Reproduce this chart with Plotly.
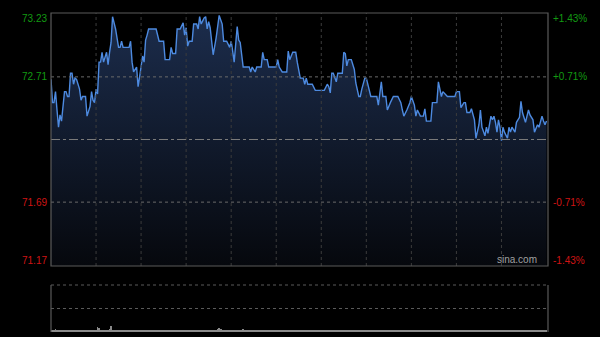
import plotly.graph_objects as go

# ---- data ----
Y_MIN, Y_MAX, PREV_CLOSE = 71.17, 73.23, 72.20
left_labels = ["73.23", "72.71", "71.69", "71.17"]
left_values = [73.23, 72.71, 71.69, 71.17]
right_labels = ["+1.43%", "+0.71%", "-0.71%", "-1.43%"]
grid_prices = [72.71, 71.69]
SESSION_MINUTES = 330
GRID_STEP = 30

minutes = [0, 1, 2, 3, 4, 5, 6, 7, 9, 10, 11, 12, 13, 14, 15, 16, 17, 19, 20, 21, 23, 24, 26, 27, 28, 29,
           30, 31, 32, 33, 34, 35, 37, 38, 39, 40, 41, 43, 45, 46, 47, 48, 52, 53, 54, 55, 57, 58, 59,
           61, 62, 63, 64, 65, 70, 72, 75, 76, 79, 80, 81, 83, 84, 86, 88, 89, 90, 91, 92, 94, 95, 97,
           98, 99, 100, 102, 103, 104, 105, 106, 108, 109, 110, 112, 114, 115, 117, 119, 120, 121, 122,
           124, 125, 126, 128, 131, 132, 133, 134, 136, 137, 140, 141, 142, 144, 145, 150, 151, 152, 154,
           157, 158, 159, 161, 163, 164, 166, 168, 169, 170, 171, 174, 176, 182, 184, 185, 186, 187, 188,
           190, 191, 194, 195, 196, 197, 198, 200, 202, 203, 205, 206, 207, 209, 210, 212, 213, 217, 218,
           220, 221, 223, 224, 226, 228, 231, 233, 234, 235, 237, 239, 240, 242, 243, 244, 246, 248, 249,
           250, 253, 254, 257, 258, 260, 261, 264, 269, 270, 272, 273, 275, 276, 277, 279, 280, 282, 283,
           285, 286, 287, 289, 290, 291, 293, 294, 295, 296, 297, 298, 299, 300, 301, 302, 304, 305, 306,
           307, 309, 310, 312, 313, 314, 316, 317, 318, 319, 321, 322, 324, 325, 327, 328, 329, 330]

prices = [72.69, 72.50, 72.50, 72.59, 72.44, 72.30, 72.40, 72.35, 72.59, 72.59, 72.55, 72.55, 72.74, 72.74,
          72.65, 72.70, 72.69, 72.61, 72.52, 72.55, 72.55, 72.39, 72.47, 72.59, 72.52, 72.50,
          72.61, 72.57, 72.83, 72.83, 72.91, 72.83, 72.91, 72.81, 72.91, 72.99, 73.20, 73.10, 72.95, 72.95,
          73.00, 72.95, 72.95, 73.00, 72.83, 72.75, 72.79, 72.63, 72.71,
          72.88, 72.83, 73.01, 73.05, 73.10, 73.10, 73.00, 73.00, 72.85, 72.85, 72.95, 72.90, 72.90, 73.10,
          73.10, 73.15, 73.05, 73.11, 72.96, 73.00, 73.00, 73.14, 73.14,
          73.10, 73.20, 73.14, 73.19, 73.20, 73.10, 73.16, 73.11, 72.89, 72.95, 73.03, 73.21, 73.14, 73.00,
          73.00, 72.95, 73.00, 72.92, 72.83,
          73.12, 73.01, 72.99, 72.79, 72.79, 72.79, 72.75, 72.79, 72.75, 72.79, 72.79, 72.91, 72.85, 72.85,
          72.79, 72.79, 72.85, 72.79, 72.75,
          72.75, 72.92, 72.85, 72.91, 72.91, 72.83, 72.70, 72.70, 72.65, 72.70, 72.65, 72.65, 72.60, 72.60,
          72.65, 72.63, 72.58, 72.74, 72.74,
          72.67, 72.74, 72.74, 72.91, 72.90, 72.80, 72.85, 72.85, 72.77, 72.66, 72.55, 72.55, 72.61, 72.70,
          72.70, 72.61, 72.55, 72.55, 72.48,
          72.67, 72.55, 72.55, 72.44, 72.50, 72.55, 72.55, 72.50, 72.44, 72.39, 72.44, 72.50, 72.55, 72.48,
          72.39, 72.44, 72.39, 72.39, 72.45,
          72.35, 72.35, 72.50, 72.50, 72.67, 72.55, 72.59, 72.55, 72.55, 72.59, 72.59, 72.46, 72.50, 72.50,
          72.42, 72.42, 72.45, 72.36, 72.21,
          72.32, 72.44, 72.30, 72.23, 72.30, 72.25, 72.39, 72.36, 72.39, 72.34, 72.26, 72.36, 72.30, 72.19,
          72.30, 72.26, 72.21, 72.30, 72.26,
          72.30, 72.26, 72.34, 72.38, 72.51, 72.42, 72.34, 72.39, 72.44, 72.40, 72.36, 72.26, 72.32, 72.30,
          72.39, 72.35, 72.32, 72.35]

volumes = [14, 12, 10, 22, 12, 10, 11, 9, 12, 10, 13, 11, 10, 12, 9, 11, 10, 12, 10, 9, 11, 10, 12, 11, 9, 10, 12, 11, 10, 13,
           18, 42, 30, 12, 10, 11, 14, 12, 10, 28, 55, 20, 12, 10, 11, 9, 10, 12, 11, 10, 9, 12, 10, 11, 10, 12, 9, 11, 10, 12,
           11, 10, 12, 9, 10, 11, 12, 10, 9, 11, 10, 12, 11, 10, 9, 12, 10, 11, 10, 12, 9, 11, 10, 12, 11, 10, 9, 12, 10, 11,
           10, 12, 9, 11, 10, 12, 11, 10, 9, 12, 10, 11, 10, 12, 9, 11, 10, 12, 14, 12, 16, 24, 30, 22, 14, 11, 10, 12, 9, 11,
           10, 12, 11, 10, 9, 12, 14, 18, 22, 12, 10, 11, 10, 12, 9, 11, 10, 12, 11, 10, 9, 12, 10, 11, 10, 12, 9, 11, 10, 12,
           11, 10, 12, 9, 10, 11, 12, 10, 9, 11, 10, 12, 11, 10, 9, 12, 10, 11, 10, 12, 9, 11, 10, 12, 11, 10, 9, 12, 10, 11,
           10, 12, 9, 11, 10, 12, 11, 10, 9, 12, 10, 11, 10, 12, 9, 11, 10, 12, 11, 10, 9, 12, 10, 11, 10, 12, 9, 11, 10, 12,
           11, 10, 12, 9, 10, 11, 12, 10, 9, 11, 10, 12, 11, 10, 9, 12, 10, 11, 10, 12, 9, 11, 10, 12, 11, 10, 9, 12, 10, 11,
           10, 12, 9, 11, 10, 12, 11, 10, 9, 12, 10, 11, 10, 12, 9, 11, 10, 12, 11, 10, 9, 12, 10, 11, 10, 12, 9, 11, 10, 12,
           11, 10, 12, 9, 10, 11, 12, 10, 9, 11, 10, 12, 11, 10, 9, 12, 10, 11, 10, 12, 9, 11, 10, 12, 11, 10, 9, 12, 10, 11,
           10, 12, 9, 11, 10, 12, 11, 10, 9, 12, 10, 11, 10, 12, 9, 11, 10, 12, 16, 20, 14, 11, 10, 12, 9, 11, 10, 12, 11, 10,
           14]
vol_minutes = list(range(len(volumes)))
VOL_MAX = 400

GREEN = "#129a12"
RED = "#d01414"
FONT = "Liberation Sans, Arial, sans-serif"

fig = go.Figure()
fig.add_trace(go.Scatter(
    x=minutes, y=prices, mode="lines",
    line=dict(color="#4d8ae0", width=1.4),
    fill="tozeroy",
    fillgradient=dict(type="vertical", colorscale=[[0, "#06080d"], [1, "#1c2d4d"]],
                      start=Y_MIN, stop=Y_MAX),
    xaxis="x", yaxis="y", hoverinfo="skip"))
fig.add_trace(go.Bar(
    x=vol_minutes, y=volumes, width=0.6,
    marker=dict(color="#8a8a8a", line=dict(width=0)),
    xaxis="x2", yaxis="y2", hoverinfo="skip"))

main_bottom = (332 - 266) / 319
vol_top = (332 - 285) / 319
X_MAX = 331

fig.update_layout(
    width=600, height=337,
    margin=dict(l=51, r=52, t=13, b=5),
    paper_bgcolor="#000000", plot_bgcolor="#000000",
    showlegend=False, bargap=0,
    xaxis=dict(domain=[0, 1], range=[0, X_MAX], anchor="y", showgrid=False,
               showticklabels=False, zeroline=False, showline=False, ticks=""),
    yaxis=dict(domain=[main_bottom, 1], range=[Y_MIN, Y_MAX], anchor="x", showgrid=False,
               showticklabels=False, zeroline=False, showline=False, ticks=""),
    xaxis2=dict(domain=[0, 1], range=[0, X_MAX], anchor="y2", showgrid=False,
                showticklabels=False, zeroline=False, showline=False, ticks=""),
    yaxis2=dict(domain=[0, vol_top], range=[0, VOL_MAX], anchor="x2",
                tickvals=[VOL_MAX / 2], showgrid=True, gridcolor="#5a5a5a", griddash="dot",
                showticklabels=False, zeroline=False, showline=False, ticks=""),
)

shapes = []
# vertical dotted grid in main panel (drawn above the fill)
for gx in range(GRID_STEP, SESSION_MINUTES, GRID_STEP):
    shapes.append(dict(type="line", xref="x", yref="y domain", x0=gx, x1=gx, y0=0, y1=1,
                       line=dict(color="#3c3c3c", width=1, dash="dot")))
# horizontal dotted grid
for gp in grid_prices:
    shapes.append(dict(type="line", xref="x domain", yref="y", x0=0, x1=1, y0=gp, y1=gp,
                       line=dict(color="#6a6a6a", width=1, dash="dot")))
# previous close dash-dot
shapes.append(dict(type="line", xref="x domain", yref="y", x0=0, x1=1, y0=PREV_CLOSE, y1=PREV_CLOSE,
                   line=dict(color="#7a7a7a", width=1, dash="dashdot")))
# main frame
shapes.append(dict(type="rect", xref="x domain", yref="y domain", x0=0, x1=1, y0=0, y1=1,
                   line=dict(color="#5a5a5a", width=1.2)))
# volume frame
shapes.append(dict(type="line", xref="x2 domain", yref="y2 domain", x0=0, x1=0, y0=0, y1=1,
                   line=dict(color="#5a5a5a", width=1.2)))
shapes.append(dict(type="line", xref="x2 domain", yref="y2 domain", x0=1, x1=1, y0=0, y1=1,
                   line=dict(color="#5a5a5a", width=1.2)))
shapes.append(dict(type="line", xref="x2 domain", yref="y2 domain", x0=0, x1=1, y0=1, y1=1,
                   line=dict(color="#5a5a5a", width=1, dash="dot")))
fig.update_layout(shapes=shapes)

shifts = [-5, 0, 0, 6]
annotations = []
for lab, val, sh in zip(left_labels, left_values, shifts):
    col = GREEN if val > PREV_CLOSE else RED
    annotations.append(dict(xref="paper", yref="y", x=0, y=val, text=lab, showarrow=False,
                            xanchor="right", yanchor="middle", xshift=-2, yshift=sh,
                            font=dict(family=FONT, size=10, color=col)))
for lab, val, sh in zip(right_labels, left_values, shifts):
    col = GREEN if val > PREV_CLOSE else RED
    annotations.append(dict(xref="paper", yref="y", x=1, y=val, text=lab, showarrow=False,
                            xanchor="left", yanchor="middle", xshift=3, yshift=sh,
                            font=dict(family=FONT, size=10, color=col)))
annotations.append(dict(xref="paper", yref="y", x=1, y=Y_MIN, text="sina.com", showarrow=False,
                        xanchor="right", yanchor="bottom", xshift=-9, yshift=-1,
                        font=dict(family=FONT, size=10, color="#a0a0a0")))
fig.update_layout(annotations=annotations)

fig.write_html("out.html")
